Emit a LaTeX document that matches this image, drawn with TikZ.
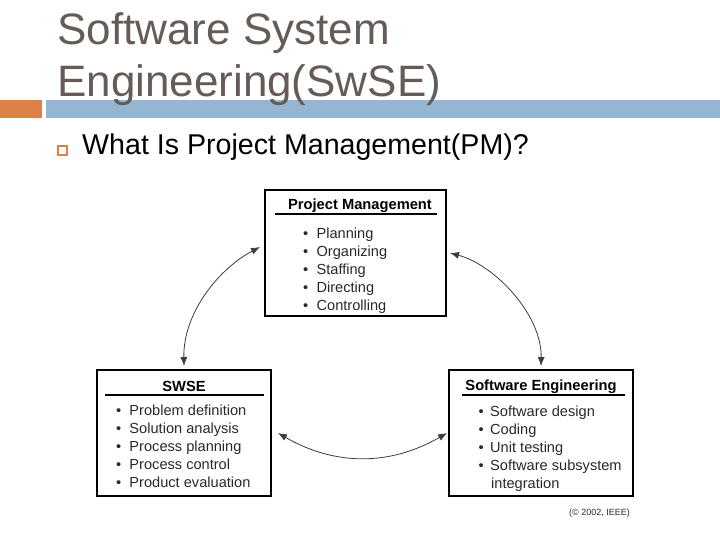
\documentclass[tikz,border=0pt]{standalone}
\usepackage{fontspec}
\setmainfont{Liberation Sans}
\usetikzlibrary{arrows.meta}
\definecolor{titlegray}{RGB}{102,92,87}
\definecolor{barorange}{RGB}{221,128,71}
\definecolor{barblue}{RGB}{148,182,210}
\definecolor{itemgray}{RGB}{40,40,40}
\definecolor{arcgray}{RGB}{60,60,60}
\tikzset{
  box/.style={draw=black, line width=2pt, minimum width=#1, minimum height=126pt, inner sep=0pt},
  heading/.style={font=\fontsize{14.7}{17}\selectfont\bfseries, anchor=base, text=black, inner sep=0pt},
  item/.style={font=\fontsize{14.6}{17}\selectfont, anchor=base west, text=itemgray, inner sep=0pt},
  headrule/.style={line width=1.5pt},
  titletext/.style={anchor=base west, inner sep=0pt, text=titlegray, font=\fontsize{44}{52}\selectfont},
  cyclearc/.style={arcgray, line width=0.8pt, {Latex[length=9pt,width=7pt]}-{Latex[length=9pt,width=7pt]}},
}
\newcommand{\pmitem}[1]{\makebox[13.4pt][l]{•}#1}
\newcommand{\switem}[1]{\makebox[13.3pt][l]{•}#1}
\newcommand{\seitem}[1]{\makebox[11.7pt][l]{•}#1}
\begin{document}
\begin{tikzpicture}[x=1pt,y=-1pt]
\useasboundingbox (0,0) rectangle (720,540);
% title bars
\fill[barorange] (0,100) rectangle (42,118);
\fill[barblue] (46,100) rectangle (720,118);
% title
\node[titletext] (t1) at (57,45) {Software System};
\node[titletext] (t2) at (57,97) {Engineering(SwSE)};
% bullet line
\draw[barorange, line width=1.5pt] (58,146) rectangle (67,155);
\node[anchor=base west, inner sep=0pt, font=\fontsize{28.6}{33}\selectfont] (q) at (82,155) {What Is Project Management(PM)?};
% boxes
\node[box=181pt] (pm) at (355.5,253) {};
\node[box=174pt] (swse) at (184,433) {};
\node[box=184pt] (se) at (541,433) {};
% PM content
\node[heading] (pmh) at (360,210) {Project Management};
\draw[headrule] (275,214) -- (437,214);
\node[item] (pm1) at (303,238) {\pmitem{Planning}};
\node[item] (pm2) at (303,256) {\pmitem{Organizing}};
\node[item] (pm3) at (303,274) {\pmitem{Staffing}};
\node[item] (pm4) at (303,292) {\pmitem{Directing}};
\node[item] (pm5) at (303,310) {\pmitem{Controlling}};
% SWSE content
\node[heading] (swh) at (184,391) {SWSE};
\draw[headrule] (105,395) -- (264,395);
\node[item] (sw1) at (116,415) {\switem{Problem definition}};
\node[item] (sw2) at (116,433) {\switem{Solution analysis}};
\node[item] (sw3) at (116,451) {\switem{Process planning}};
\node[item] (sw4) at (116,469) {\switem{Process control}};
\node[item] (sw5) at (116,487) {\switem{Product evaluation}};
% SE content
\node[heading] (seh) at (541,390) {Software Engineering};
\draw[headrule] (462,395) -- (625,395);
\node[item] (se1) at (478.3,416) {\seitem{Software design}};
\node[item] (se2) at (478.3,434) {\seitem{Coding}};
\node[item] (se3) at (478.3,452) {\seitem{Unit testing}};
\node[item] (se4) at (478.3,470) {\seitem{Software subsystem}};
\node[item] (se5) at (491,488) {integration};
% copyright
\node[anchor=base east, inner sep=0pt, font=\fontsize{9}{11}\selectfont, text=itemgray] (copy) at (630,515) {(© 2002, IEEE)};
% cycle arcs
\draw[cyclearc] ([xshift=-4pt,yshift=6pt]pm.west) .. controls (220,268) and (183,312) .. ([yshift=3pt]swse.north);
\draw[cyclearc] ([xshift=3pt]pm.east) .. controls (495,265) and (542,315) .. ([yshift=3pt]se.north);
\draw[cyclearc] ([xshift=6pt]swse.east) .. controls (335,466) and (390,466) .. ([xshift=-1pt]se.west);
\end{tikzpicture}
\end{document}
